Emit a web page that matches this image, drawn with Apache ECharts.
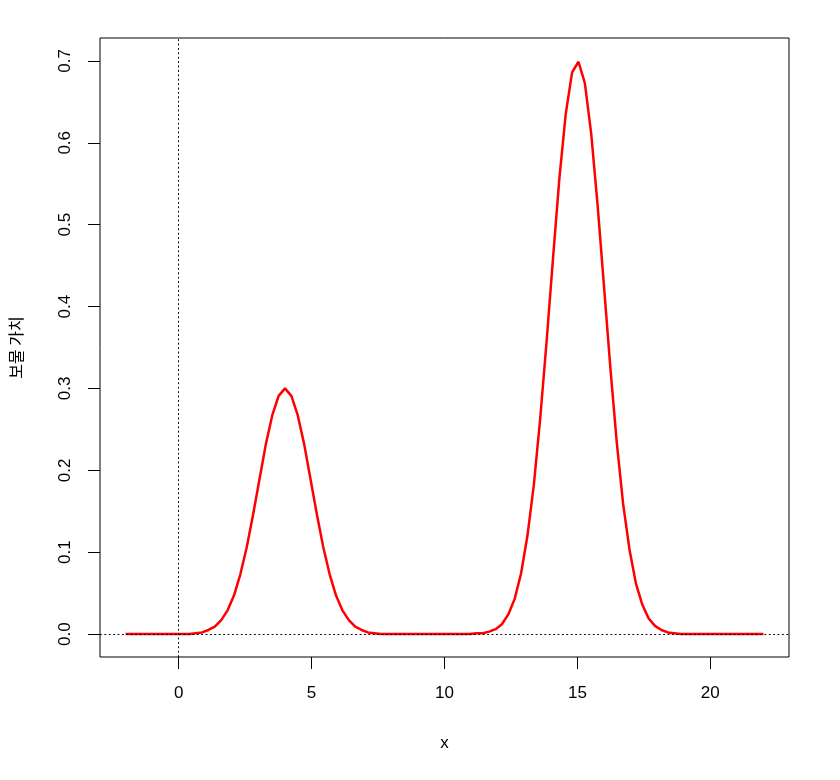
<!DOCTYPE html>
<html>
<head>
<meta charset="utf-8">
<script src="https://cdn.jsdelivr.net/npm/echarts@6/dist/echarts.min.js"></script>
<style>
  html, body { margin: 0; padding: 0; background: #fff; }
  #chart { width: 840px; height: 780px; }
</style>
</head>
<body>
<div id="chart"></div>
<script>
// curve points (x from -2 to 22)
const xs = [
  -2, -1.76, -1.52, -1.28, -1.04, -0.8, -0.56, -0.32, -0.08, 0.16,
  0.4, 0.64, 0.88, 1.12, 1.36, 1.6, 1.84, 2.08, 2.32, 2.56,
  2.8, 3.04, 3.28, 3.52, 3.76, 4, 4.24, 4.48, 4.72, 4.96,
  5.2, 5.44, 5.68, 5.92, 6.16, 6.4, 6.64, 6.88, 7.12, 7.36,
  7.6, 7.84, 8.08, 8.32, 8.56, 8.8, 9.04, 9.28, 9.52, 9.76,
  10, 10.24, 10.48, 10.72, 10.96, 11.2, 11.44, 11.68, 11.92, 12.16,
  12.4, 12.64, 12.88, 13.12, 13.36, 13.6, 13.84, 14.08, 14.32, 14.56,
  14.8, 15.04, 15.28, 15.52, 15.76, 16, 16.24, 16.48, 16.72, 16.96,
  17.2, 17.44, 17.68, 17.92, 18.16, 18.4, 18.64, 18.88, 19.12, 19.36,
  19.6, 19.84, 20.08, 20.32, 20.56, 20.8, 21.04, 21.28, 21.52, 21.76,
  22
]
const values = [
  0, 0, 0, 0, 0, 0, 0, 0, 0, 0,
  0, 0.001, 0.002, 0.005, 0.009, 0.017, 0.029, 0.047, 0.073, 0.106,
  0.146, 0.189, 0.232, 0.267, 0.291, 0.3, 0.291, 0.267, 0.232, 0.189,
  0.146, 0.106, 0.073, 0.047, 0.029, 0.017, 0.009, 0.005, 0.002, 0.001,
  0, 0, 0, 0, 0, 0, 0, 0, 0, 0,
  0, 0, 0, 0, 0, 0.001, 0.001, 0.003, 0.006, 0.012,
  0.024, 0.043, 0.074, 0.120, 0.182, 0.263, 0.357, 0.458, 0.556, 0.635,
  0.686, 0.699, 0.673, 0.611, 0.524, 0.425, 0.325, 0.234, 0.159, 0.103,
  0.062, 0.036, 0.019, 0.010, 0.005, 0.002, 0.001, 0, 0, 0,
  0, 0, 0, 0, 0, 0, 0, 0, 0, 0,
  0
]
const xTicks = [0, 5, 10, 15, 20]
const yTicks = [0, 0.1, 0.2, 0.3, 0.4, 0.5, 0.6, 0.7]

const chart = echarts.init(document.getElementById('chart'), null, { renderer: 'canvas' })
const font = '"Liberation Sans", Arial, sans-serif'
const dotted = { color: '#000', width: 1, type: [1.8, 2.6] }

chart.setOption({
  animation: false,
  backgroundColor: '#fff',
  grid: {
    left: 98, right: 51, top: 38, bottom: 123,
    show: true, borderColor: '#000', borderWidth: 1, backgroundColor: 'transparent'
  },
  xAxis: {
    type: 'value', min: -2.96, max: 22.96,
    name: 'x', nameLocation: 'middle', nameGap: 78,
    nameTextStyle: { color: '#000', fontSize: 17, fontFamily: font },
    axisLine: { show: false, onZero: false },
    splitLine: { show: false },
    axisTick: { show: true, inside: false, length: 12, customValues: xTicks, lineStyle: { color: '#000' } },
    axisLabel: { customValues: xTicks, margin: 28, color: '#000', fontSize: 17, fontFamily: font }
  },
  yAxis: {
    type: 'value', min: -0.028, max: 0.728,
    name: '보물 가치', nameLocation: 'middle', nameGap: 76, nameRotate: 90,
    nameTextStyle: { color: '#000', fontSize: 16, fontFamily: '"Noto Sans CJK KR", sans-serif' },
    axisLine: { show: false, onZero: false },
    splitLine: { show: false },
    axisTick: { show: true, inside: false, length: 12, customValues: yTicks, lineStyle: { color: '#000' } },
    axisLabel: {
      customValues: yTicks, rotate: 90, margin: 26, color: '#000', fontSize: 17, fontFamily: font,
      formatter: v => v.toFixed(1)
    }
  },
  series: [
    {
      type: 'line', z: 2,
      data: xs.map((x, i) => [x, values[i]]),
      showSymbol: false,
      lineStyle: { color: '#ff0000', width: 2.5 }
    },
    {
      type: 'line', z: 5, data: [],
      markLine: {
        silent: true, symbol: 'none', label: { show: false },
        lineStyle: dotted,
        data: [{ xAxis: 0 }, { yAxis: 0 }]
      }
    }
  ]
})
</script>
</body>
</html>
